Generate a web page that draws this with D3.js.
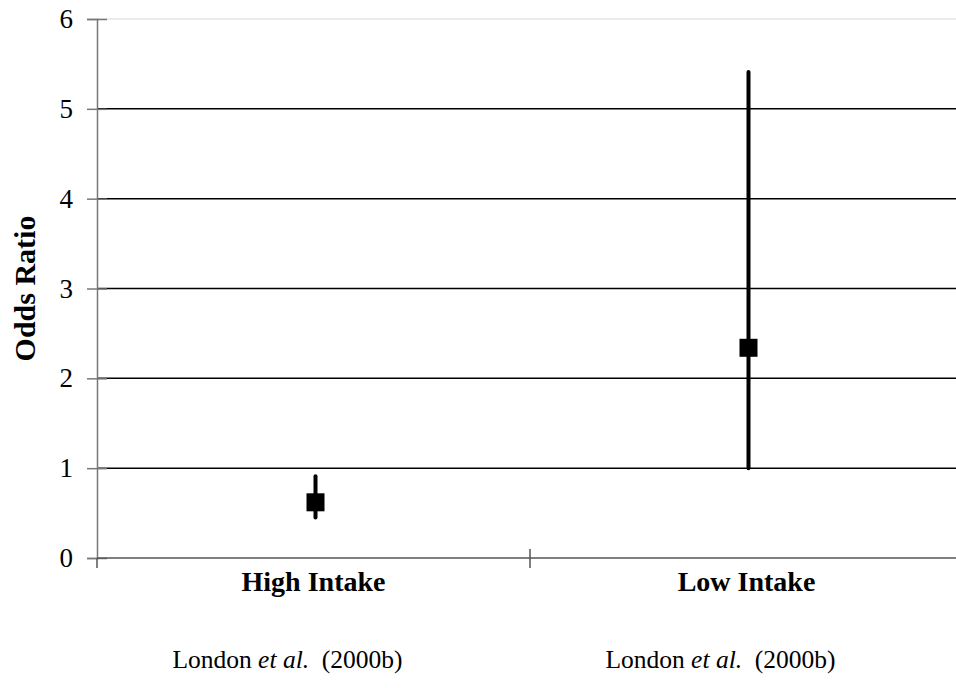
<!DOCTYPE html>
<html>
<head>
<meta charset="utf-8">
<script src="https://cdn.jsdelivr.net/npm/d3@7"></script>
<style>
  body { margin: 0; background: #fff; }
  svg text { font-family: "Liberation Serif", "Times New Roman", serif !important; }
</style>
</head>
<body>
<script>
// data
const categories = ["High Intake", "Low Intake"];
const studies = ["London", "London"];
const oddsRatio = [0.62, 2.34];
const lowerCI = [0.45, 1.0];
const upperCI = [0.91, 5.41];
const yTicks = [0, 1, 2, 3, 4, 5, 6];

const width = 956, height = 688;
const margin = { top: 19, right: -7, bottom: 130, left: 97 };
const serif = "'Liberation Serif', 'Times New Roman', serif";

const svg = d3.select("body").append("svg")
  .attr("width", width)
  .attr("height", height);

const x = d3.scaleBand()
  .domain(categories)
  .range([margin.left, width - margin.right])
  .padding(0);

const y = d3.scaleLinear()
  .domain([0, 6])
  .range([height - margin.bottom, margin.top]);

// gridlines
svg.append("g")
  .selectAll("line")
  .data(yTicks.filter(d => d > 0))
  .enter()
  .append("line")
  .attr("x1", margin.left)
  .attr("x2", width)
  .attr("y1", d => y(d))
  .attr("y2", d => y(d))
  .attr("stroke", d => d === 6 ? "#e6e6e6" : "#000")
  .attr("stroke-width", 1.5);

// y axis (ticks cross the axis)
const yAxis = svg.append("g")
  .attr("transform", `translate(${margin.left},0)`)
  .call(d3.axisLeft(y).tickValues(yTicks).tickSize(10).tickPadding(14).tickFormat(d3.format("d")))
  .attr("font-family", serif)
  .attr("font-size", 27);
yAxis.select(".domain").attr("stroke", "#777").attr("stroke-width", 1.5);
yAxis.selectAll(".tick line").attr("x2", -10).attr("x1", 10).attr("stroke", "#777").attr("stroke-width", 1.5);
yAxis.selectAll(".tick text").attr("fill", "#000").style("font-family", serif);

// x axis
const xAxisG = svg.append("g")
  .attr("transform", `translate(0,${y(0)})`);
xAxisG.append("line")
  .attr("x1", margin.left).attr("x2", width)
  .attr("stroke", "#555").attr("stroke-width", 1.5);
xAxisG.selectAll(".xtick")
  .data(categories.map(c => x(c)))
  .enter()
  .append("line")
  .attr("class", "xtick")
  .attr("x1", d => d).attr("x2", d => d)
  .attr("y1", (d, i) => i === 0 ? 0 : -9)
  .attr("y2", 10)
  .attr("stroke", "#555").attr("stroke-width", 1.5);

// category labels
const cx = c => x(c) + x.bandwidth() / 2;
svg.selectAll(".cat")
  .data(categories)
  .enter()
  .append("text")
  .attr("class", "cat")
  .attr("x", d => cx(d))
  .attr("y", 591)
  .attr("text-anchor", "middle")
  .style("font-family", serif)
  .style("font-size", "28px")
  .style("font-weight", "bold")
  .text(d => d);

// study labels (sit a little left of the band centre)
const study = svg.selectAll(".study")
  .data(categories)
  .enter()
  .append("text")
  .attr("class", "study")
  .attr("x", d => cx(d))
  .attr("dx", -26)
  .attr("y", 668)
  .attr("text-anchor", "middle")
  .attr("xml:space", "preserve")
  .style("font-family", serif)
  .style("font-size", "25.5px");
study.append("tspan").text((d, i) => studies[i] + " ");
study.append("tspan").style("font-style", "italic").text("et al.");
study.append("tspan").text("  (2000b)");

// y axis title
svg.append("text")
  .attr("transform", `translate(35,${(y(0) + y(6)) / 2}) rotate(-90)`)
  .attr("text-anchor", "middle")
  .style("font-family", serif)
  .style("font-size", "30px")
  .style("font-weight", "bold")
  .text("Odds Ratio");

// error bars
svg.selectAll(".ci")
  .data(categories)
  .enter()
  .append("line")
  .attr("class", "ci")
  .attr("x1", d => cx(d) + 2).attr("x2", d => cx(d) + 2)
  .attr("y1", (d, i) => y(lowerCI[i]))
  .attr("y2", (d, i) => y(upperCI[i]))
  .attr("stroke", "#000")
  .attr("stroke-width", 4)
  .attr("stroke-linecap", "round");

// point estimates
const sq = 18;
svg.selectAll(".pt")
  .data(categories)
  .enter()
  .append("rect")
  .attr("class", "pt")
  .attr("x", d => cx(d) + 2 - sq / 2)
  .attr("y", (d, i) => y(oddsRatio[i]) - sq / 2)
  .attr("width", sq)
  .attr("height", sq)
  .attr("fill", "#000");
</script>
</body>
</html>
